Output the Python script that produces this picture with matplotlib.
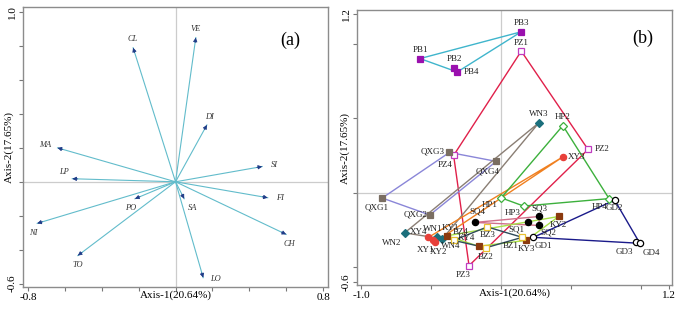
import numpy as np
import matplotlib
matplotlib.use("Agg")
import matplotlib.pyplot as plt

plt.rcParams["font.family"] = ["Liberation Serif", "DejaVu Serif"]

# ---- panel (a): loading vectors ----
vec_names = ["CL", "VE", "DI", "MA", "LP", "SI", "FI", "CH", "SA", "PO", "NI", "TO", "LO"]
vec_x = [-0.23, 0.11, 0.17, -0.64, -0.56, 0.47, 0.50, 0.60, 0.047, -0.22, -0.75, -0.53, 0.15]
vec_y = [0.79, 0.85, 0.335, 0.20, 0.018, 0.09, -0.094, -0.31, -0.10, -0.10, -0.245, -0.435, -0.565]

# ---- panel (b): site scores, one list per group ----
pb_names = ["PB1", "PB2", "PB3", "PB4"]
pb_x = [-0.58, -0.336, 0.143, -0.314]
pb_y = [0.90, 0.84, 1.08, 0.81]

pz_names = ["PZ1", "PZ2", "PZ3", "PZ4"]
pz_x = [0.143, 0.62, -0.23, -0.34]
pz_y = [0.95, 0.29, -0.49, 0.25]

qxg_names = ["QXG1", "QXG2", "QXG3", "QXG4"]
qxg_x = [-0.85, -0.51, -0.37, -0.036]
qxg_y = [-0.036, -0.15, 0.27, 0.21]

wn_names = ["WN1", "WN2", "WN3", "WN4"]
wn_x = [-0.46, -0.69, 0.27, -0.42]
wn_y = [-0.30, -0.27, 0.47, -0.31]

xy_names = ["XY1", "XY2", "XY3", "XY4"]
xy_x = [-0.49, -0.47, 0.44, -0.52]
xy_y = [-0.32, -0.33, 0.24, -0.30]

hp_names = ["HP1", "HP2", "HP3", "HP4"]
hp_x = [0.0, 0.44, 0.16, 0.77]
hp_y = [-0.035, 0.45, -0.09, -0.04]

gd_names = ["GD1", "GD2", "GD3", "GD4"]
gd_x = [0.23, 0.81, 0.96, 0.99]
gd_y = [-0.30, -0.05, -0.33, -0.34]

sq_names = ["SQ1", "SQ2", "SQ3", "SQ4"]
sq_x = [0.19, 0.27, 0.27, -0.19]
sq_y = [-0.20, -0.22, -0.16, -0.20]

ky_names = ["KY1", "KY2", "KY3", "KY4"]
ky_x = [-0.39, 0.41, 0.18, -0.16]
ky_y = [-0.29, -0.16, -0.32, -0.36]

bz_names = ["BZ1", "BZ2", "BZ3", "BZ4"]
bz_x = [0.15, -0.11, -0.10, -0.34]
bz_y = [-0.30, -0.37, -0.23, -0.32]

# label offsets in points (layout only)
lab_off = {
    "PB1": (0, 6), "PB2": (0, 6), "PB3": (0, 6), "PB4": (10, 0),
    "PZ1": (0, 6), "PZ2": (10, 0), "PZ3": (-4, -7), "PZ4": (-6, -7),
    "QXG1": (-4, -7), "QXG2": (-10, 0), "QXG3": (-12, 1), "QXG4": (-6, -7),
    "WN1": (-3, 6), "WN2": (-9, -7), "WN3": (0, 6), "WN4": (6, -5),
    "XY1": (-5, -7), "XY2": (2, -7), "XY3": (10, 0), "XY4": (-7, 4),
    "HP1": (-8, -5), "HP2": (0, 6), "HP3": (-8, -5), "HP4": (-7, -6),
    "GD1": (7, -6), "GD2": (0, -6), "GD3": (-8, -7), "GD4": (8, -7),
    "SQ1": (-8, -5), "SQ2": (7, -5), "SQ3": (0, 6), "SQ4": (2, 8),
    "KY1": (3, 6), "KY2": (0, -6), "KY3": (0, -6), "KY4": (-9, 6),
    "BZ1": (-8, -6), "BZ2": (0, -7), "BZ3": (0, -6), "BZ4": (5, 6),
}

groups = [
    # names, x, y, marker, marker face, marker edge, line colour
    (pb_names, pb_x, pb_y, "s", "#9a10ae", "#9a10ae", "#3fb5cc"),
    (pz_names, pz_x, pz_y, "s", "white", "#c03cc0", "#e0204a"),
    (qxg_names, qxg_x, qxg_y, "s", "#7a6e62", "#7a6e62", "#8a86d8"),
    (wn_names, wn_x, wn_y, "D", "#1b6f7c", "#1b6f7c", "#8a7e74"),
    (xy_names, xy_x, xy_y, "o", "#e8403a", "#e8403a", "#f08020"),
    (hp_names, hp_x, hp_y, "D", "white", "#3cb03c", "#3cb03c"),
    (gd_names, gd_x, gd_y, "o", "white", "black", "#1a1a8a"),
    (sq_names, sq_x, sq_y, "o", "black", "black", "#d0708a"),
    (ky_names, ky_x, ky_y, "s", "#8b3a0e", "#8b3a0e", "#a8e048"),
    (bz_names, bz_x, bz_y, "s", "white", "#e8c030", "#2f4a5a"),
]


def hull(px, py):
    pts = sorted(zip(px, py))

    def cross(o, a, b):
        return (a[0] - o[0]) * (b[1] - o[1]) - (a[1] - o[1]) * (b[0] - o[0])

    lower, upper = [], []
    for p in pts:
        while len(lower) >= 2 and cross(lower[-2], lower[-1], p) <= 0:
            lower.pop()
        lower.append(p)
    for p in reversed(pts):
        while len(upper) >= 2 and cross(upper[-2], upper[-1], p) <= 0:
            upper.pop()
        upper.append(p)
    h = lower[:-1] + upper[:-1]
    h.append(h[0])
    return [p[0] for p in h], [p[1] for p in h]


def style_axes(ax, xt, yt, xlim, ylim):
    ax.set_xlim(*xlim)
    ax.set_ylim(*ylim)
    ax.set_xticks(xt)
    ax.set_yticks(yt)
    ax.set_xticklabels([f"{xt[0]:.1f}"] + [""] * (len(xt) - 2) + [f"{xt[-1]:.1f}"])
    ax.set_yticklabels([f"{yt[0]:.1f}"] + [""] * (len(yt) - 2) + [f"{yt[-1]:.1f}"],
                       rotation=90, va="center")
    ax.tick_params(direction="out", length=3, width=0.8, color="#777777",
                   labelsize=8, pad=1.5)
    for s in ax.spines.values():
        s.set_color("#8c8c8c")
        s.set_linewidth(1.0)
    ax.axhline(0, color="#cccccc", lw=0.9, zorder=0)
    ax.axvline(0, color="#cccccc", lw=0.9, zorder=0)
    ax.set_xlabel("Axis-1(20.64%)", fontsize=8)
    ax.xaxis.set_label_coords(0.5, -0.012)
    ax.xaxis.label.set_va("top")
    ax.set_ylabel("Axis-2(17.65%)", fontsize=8)


fig = plt.figure(figsize=(6.85, 3.10), dpi=100)

# ---------- (a) ----------
axa = fig.add_axes([0.0336, 0.0742, 0.4453, 0.9032])
style_axes(axa, np.round(np.arange(-0.8, 0.81, 0.2), 1), np.round(np.arange(-0.6, 1.01, 0.2), 1),
           (-0.827, 0.827), (-0.62, 1.03))
axa.yaxis.set_label_coords(-0.03, 0.5)

vec_lab = {"CL": (0, 6), "VE": (0, 6), "DI": (2, 6), "MA": (-9, 2), "LP": (-6, 5),
           "SI": (9, 1), "FI": (9, 0), "CH": (2, -7), "SA": (6, -7), "PO": (-3, -7),
           "NI": (-3, -7), "TO": (0, -7), "LO": (9, -1)}
for n, vx, vy in zip(vec_names, vec_x, vec_y):
    axa.plot([0, vx], [0, vy], color="#62bccb", lw=0.8, zorder=2)
    d = np.array([vx, vy]) / np.hypot(vx, vy)
    axa.annotate("", xy=(vx, vy), xytext=(vx - 0.03 * d[0], vy - 0.03 * d[1]),
                 arrowprops=dict(arrowstyle="-|>", color="#1f3c88", lw=0.6,
                                 mutation_scale=6, shrinkA=0, shrinkB=0), zorder=3)
    dx, dy = vec_lab[n]
    axa.annotate(n, (vx, vy), xytext=(dx, dy), textcoords="offset points",
                 ha="center", va="center", fontsize=6, style="italic", color="#333333")
axa.text(0.875, 0.882, "(a)", transform=axa.transAxes, fontsize=13, ha="center", va="center")

# ---------- (b) ----------
axb = fig.add_axes([0.5212, 0.0806, 0.4599, 0.8871])
style_axes(axb, [-1.0, -0.5, 0.0, 0.5, 1.0, 1.2], [-0.6, -0.5, 0.0, 0.5, 1.0, 1.2],
           (-1.03, 1.22), (-0.62, 1.226))
axb.yaxis.set_label_coords(-0.022, 0.5)

for names, gx, gy, mk, fc, ec, lc in groups:
    hx, hy = hull(gx, gy)
    axb.plot(hx, hy, color=lc, lw=1.0, zorder=2)
    ms = 4.5 if mk != "D" else 3.8
    axb.plot(gx, gy, ls="none", marker=mk, ms=ms, mfc=fc, mec=ec, mew=0.9, zorder=4)
    for n, px, py in zip(names, gx, gy):
        dx, dy = lab_off[n]
        axb.annotate(n, (px, py), xytext=(dx, dy), textcoords="offset points",
                     ha="center", va="center", fontsize=6.5, color="#222222", zorder=5)
axb.text(0.908, 0.898, "(b)", transform=axb.transAxes, fontsize=13, ha="center", va="center")

fig.savefig("out.png", dpi=100)
